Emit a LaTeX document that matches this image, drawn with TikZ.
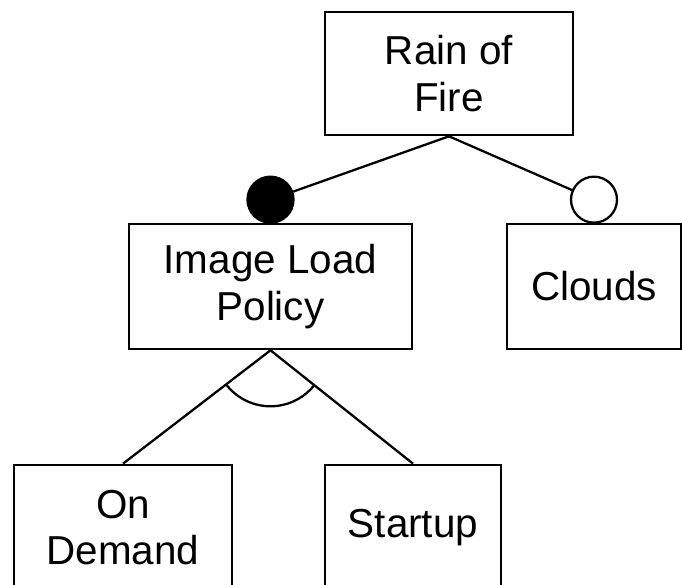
\documentclass[tikz,border=0pt]{standalone}
\usepackage{fontspec}
\setmainfont{Liberation Sans}
\usetikzlibrary{angles}
\begin{document}
\begin{tikzpicture}[
    feature/.style={rectangle, draw, line width=1.5pt, minimum height=2.5cm, align=center, inner sep=0pt, font=\fontsize{23}{26.6}\selectfont},
    mandatory/.style={circle, draw, line width=1.3pt, fill=black, minimum size=0.92cm, inner sep=0pt},
    optional/.style={circle, draw, line width=1.3pt, fill=white, minimum size=0.92cm, inner sep=0pt},
    edge/.style={line width=1.3pt}
]
    \useasboundingbox (0,0) rectangle (13.64,11.7);

    % Root feature
    \node[feature, minimum width=4.96cm, minimum height=2.46cm] (rain) at (8.98,10.23) {Rain of\\Fire};

    % Sub features
    \node[feature, minimum width=5.66cm] (policy) at (5.41,5.97) {Image Load\\Policy};
    \node[feature, minimum width=3.48cm] (clouds) at (11.88,5.97) {Clouds};

    \node[mandatory] (mpolicy) at ([yshift=0.46cm]policy.north) {};
    \node[optional] (oclouds) at ([yshift=0.46cm]clouds.north) {};

    \draw[edge] (rain.south) -- (mpolicy);
    \draw[edge] (rain.south) -- (oclouds);

    % Alternative group
    \node[feature, minimum width=4.36cm] (demand) at (2.46,1.15) {On\\Demand};
    \node[feature, minimum width=3.52cm] (startup) at (8.26,1.15) {Startup};

    \coordinate (alt) at (policy.south);
    \coordinate (demandtop) at (demand.north);
    \coordinate (startuptop) at (startup.north);

    \draw[edge] (alt) -- (demandtop);
    \draw[edge] (alt) -- (startuptop);
    \pic[draw, edge, angle radius=1.12cm] {angle=demandtop--alt--startuptop};
\end{tikzpicture}
\end{document}
